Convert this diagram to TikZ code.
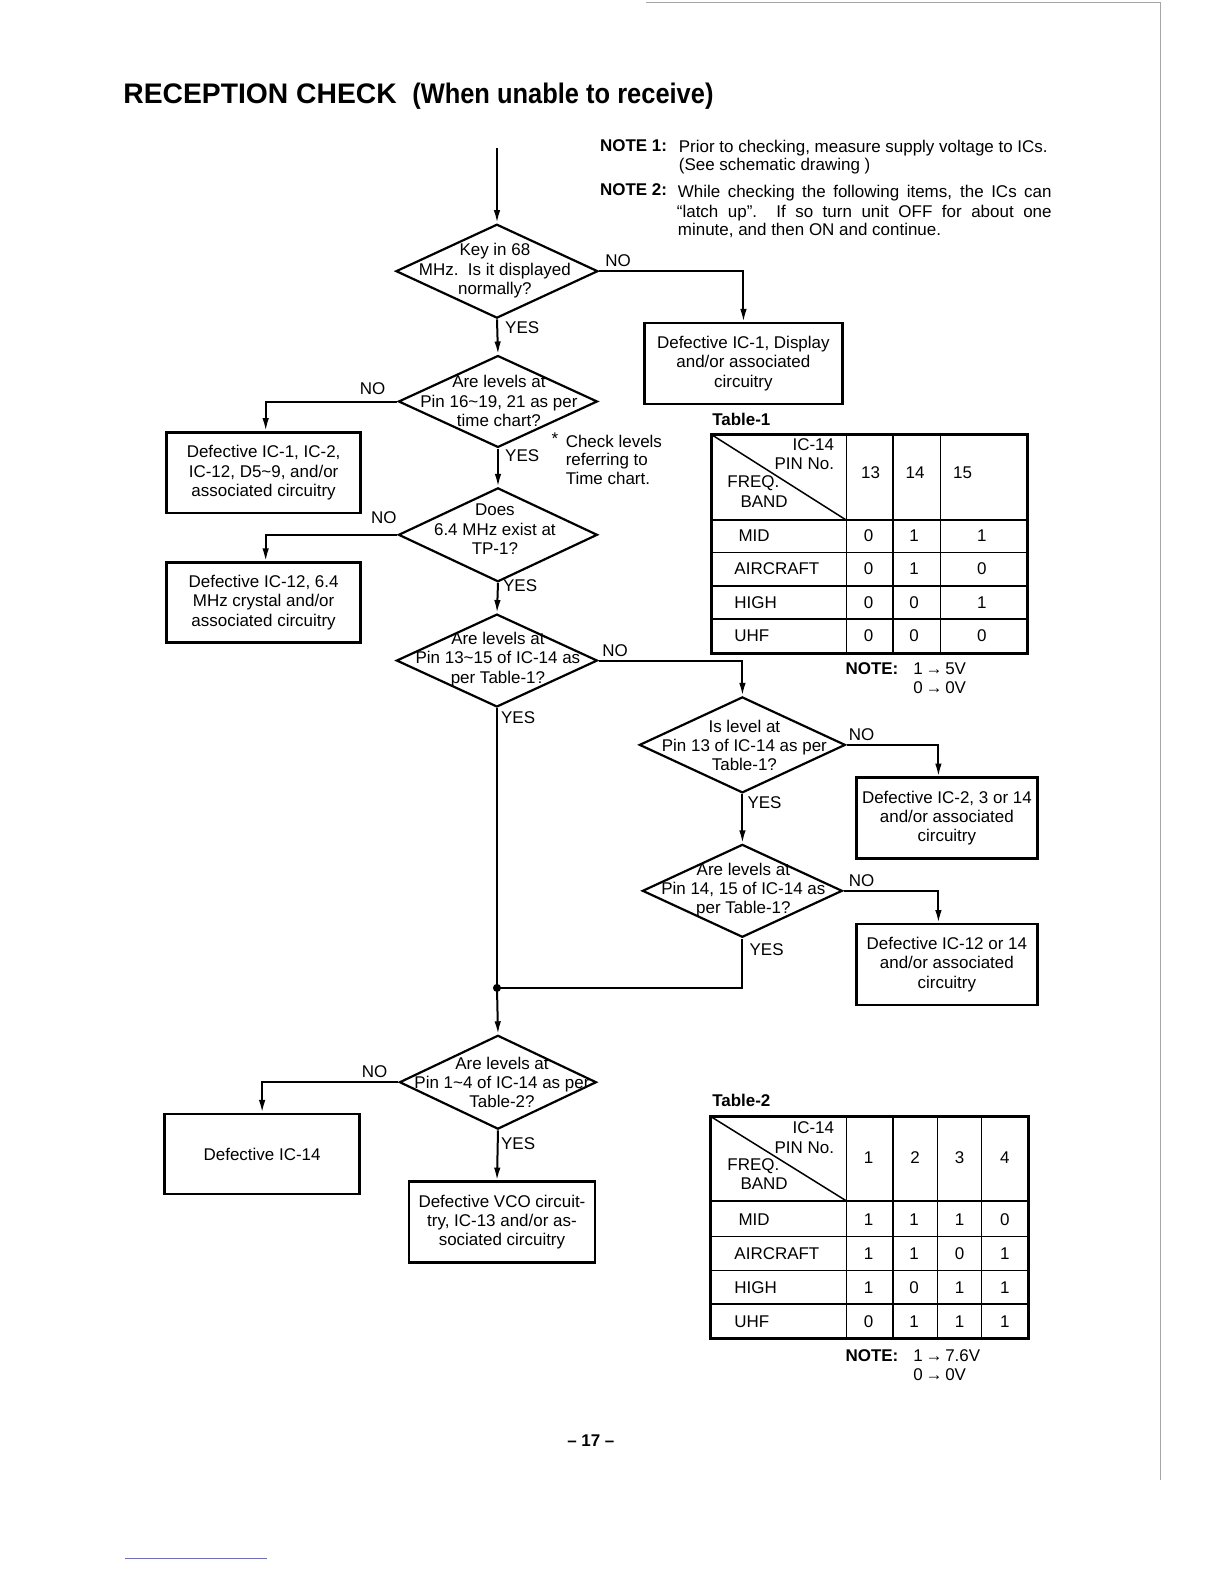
\documentclass[tikz,border=0pt]{standalone}
\usepackage{fontspec}
\setmainfont{Liberation Sans}
\usetikzlibrary{shapes.geometric,arrows.meta}
\newcommand\fs{\fontsize{16.8}{19}\selectfont}
\begin{document}
\begin{tikzpicture}[x=1pt,y=-1pt,scale=1.01,transform shape,
  every node/.style={font=\fs, inner sep=0pt},
  dia/.style={draw, shape=diamond, line width=2.2pt, inner sep=0pt},
  box/.style={draw, rectangle, line width=2.5pt, align=center},
  arr/.style={line width=2pt, -{Latex[length=13pt,width=6.5pt]}},
  ln/.style={line width=2pt},
  thick tab/.style={line width=3pt},
  thin tab/.style={line width=1.5pt},
  bl/.style={anchor=base west},
  bc/.style={anchor=base},
  br/.style={anchor=base east},
]
\useasboundingbox (0,0) rectangle (1211.88,1568.32);
% scan edges
\draw[gray!70, line width=1pt] (640,2) -- (1149,2) -- (1149,1465);
\draw[blue!60, line width=1pt] (124,1543) -- (264,1543);

% title
\node[bl, font=\fontsize{28}{30}\selectfont\bfseries] (title1) at (122,102) {RECEPTION CHECK};
\node[bl, font=\fontsize{28}{30}\selectfont\bfseries] (title2) at (408,102) {\scalebox{0.9}[1]{(When unable to receive)}};

% notes
\node[bl, font=\fs\bfseries] (n1) at (594,150) {NOTE 1:};
\node[bl] (n1a) at (672,151) {Prior to checking, measure supply voltage to ICs.};
\node[bl] (n1b) at (672,169) {(See schematic drawing )};
\node[bl, font=\fs\bfseries] (n2) at (594,194) {NOTE 2:};
\node[bl] (n2a) at (671,196) {\makebox[370pt][s]{While checking the following items, the ICs can}};
\node[bl] (n2b) at (670,215) {\makebox[371pt][s]{“latch up”.\ \ If so turn unit OFF for about one}};
\node[bl] (n2c) at (671,233) {minute, and then ON and continue.};

% diamonds
\node[dia, minimum width=200pt, minimum height=93pt] (d1) at (492,268.5) {};
\node[align=center] (t1) at (490,268) {Key in 68\\MHz.\ \ Is it displayed\\normally?};
\node[dia, minimum width=197pt, minimum height=91pt] (d2) at (493,397.5) {};
\node[align=center] (t2) at (494,397) {Are levels at\\Pin 16\textasciitilde19, 21 as per\\time chart?};
\node[dia, minimum width=197pt, minimum height=93pt] (d3) at (493,529.5) {};
\node[align=center] (t3) at (490,524) {Does\\6.4 MHz exist at\\TP-1?};
\node[dia, minimum width=199pt, minimum height=92pt] (d4) at (492,654) {};
\node[align=center] (t4) at (493,653) {Are levels at\\Pin 13\textasciitilde15 of IC-14 as\\per Table-1?};
\node[dia, minimum width=204pt, minimum height=95pt] (d5) at (735,737.5) {};
\node[align=center] (t5) at (737,738) {Is level at\\Pin 13 of IC-14 as per\\Table-1?};
\node[dia, minimum width=198pt, minimum height=92pt] (d6) at (735,882) {};
\node[align=center] (t6) at (736,881) {Are levels at\\Pin 14, 15 of IC-14 as\\per Table-1?};
\node[dia, minimum width=195pt, minimum height=93pt] (d7) at (493,1071.5) {};
\node[align=center] (t7) at (497,1072) {Are levels at\\Pin 1\textasciitilde4 of IC-14 as per\\Table-2?};

% boxes
\node[box, minimum width=196pt, minimum height=80pt] (b1) at (736,360) {Defective IC-1, Display\\and/or associated\\circuitry};
\node[box, minimum width=192pt, minimum height=80pt] (b2) at (261,468) {Defective IC-1, IC-2,\\IC-12, D5\textasciitilde9, and/or\\associated circuitry};
\node[box, minimum width=192pt, minimum height=79pt] (b3) at (261,596.5) {Defective IC-12, 6.4\\MHz crystal and/or\\associated circuitry};
\node[box, minimum width=179pt, minimum height=80pt] (b5) at (937.5,810) {Defective IC-2, 3 or 14\\and/or associated\\circuitry};
\node[box, minimum width=179pt, minimum height=80pt] (b6) at (937.5,955) {Defective IC-12 or 14\\and/or associated\\circuitry};
\node[box, minimum width=193pt, minimum height=79pt] (b7) at (259.5,1142.5) {Defective IC-14};
\node[box, minimum width=184pt, minimum height=80pt] (b8) at (497,1210) {Defective VCO circuit-\\try, IC-13 and/or as-\\sociated circuitry};

% connectors
\coordinate (start) at (492,147);
\coordinate (j) at (492,978);
\draw[arr] (start) -- (d1.north);
\draw[arr] (d1.east) -| (b1.north);
\draw[arr] (d1.south) -- (d2.north);
\draw[arr] (d2.west) -| ([xshift=2pt]b2.north);
\draw[arr] (d2.south) -- (d3.north);
\draw[arr] (d3.west) -| ([xshift=2pt]b3.north);
\draw[arr] (d3.south) -- (d4.north);
\draw[arr] (d4.east) -| (d5.north);
\draw[ln] (d4.south) -- (j);
\draw[arr] (d5.east) -| ([xshift=-8.5pt]b5.north);
\draw[arr] (d5.south) -- (d6.north);
\draw[arr] (d6.east) -| ([xshift=-8.5pt]b6.north);
\draw[ln] (d6.south) |- (j);
\fill (j) circle (4pt);
\draw[arr] (j) -- (d7.north);
\draw[arr] (d7.west) -| (b7.north);
\draw[arr] (d7.south) -- ([xshift=-5pt]b8.north);

% labels
\node (no1) at (612,258) {NO};
\node (yes1) at (517,324) {YES};
\node (no2) at (369,385) {NO};
\node (yes2) at (517,451) {YES};
\node (no3) at (380,513) {NO};
\node (yes3) at (515,580) {YES};
\node (no4) at (609,644) {NO};
\node (yes4) at (513,711) {YES};
\node (no5) at (853,727) {NO};
\node (yes5) at (757,795) {YES};
\node (no6) at (853,872) {NO};
\node (yes6) at (759,940) {YES};
\node (no7) at (371,1061) {NO};
\node (yes7) at (513,1132) {YES};

% check note
\node[bl] (ast) at (546,440) {*};
\node[bl] (c1) at (560,443) {Check levels};
\node[bl] (c2) at (560,461) {referring to};
\node[bl] (c3) at (560,480) {Time chart.};

% Table 1
\node[bl, font=\fs\bfseries] (tab1) at (705,421) {Table-1};
\draw[thin tab] (704,430) -- (838,515);
\draw[thin tab] (838,430) -- (838,647) (884,430) -- (884,647) (931,430) -- (931,647);
\draw[thin tab] (704,515) -- (1017,515) (704,547) -- (1017,547) (704,580) -- (1017,580) (704,613) -- (1017,613);
\draw[thick tab] (704,430) rectangle (1017,647);
\node[br] at (826,446) {IC-14};
\node[br] at (826,465) {PIN No.};
\node[bl] at (720,483) {FREQ.};
\node[bl] at (733,502) {BAND};
\node[bc] at (862,474) {13};
\node[bc] at (906,474) {14};
\node[bc] at (953,474) {15};
\foreach \nm/\xx/\a/\b/\c/\yy in {MID/731/0/1/1/536, AIRCRAFT/727/0/1/0/569, HIGH/727/0/0/1/602, UHF/727/0/0/0/635}{
  \node[bl] at (\xx,\yy) {\nm};
  \node[bc] at (860,\yy) {\a};
  \node[bc] at (905,\yy) {\b};
  \node[bc] at (972,\yy) {\c};
}
\node[bl, font=\fs\bfseries] (nt1) at (837,668) {NOTE:};
\node[bl] (nt1a) at (904,668) {1\,→\,5V};
\node[bl] (nt1b) at (904,687) {0\,→\,0V};

% Table 2
\node[bl, font=\fs\bfseries] (tab2) at (705,1096) {Table-2};
\draw[thin tab] (703,1105) -- (838,1189);
\draw[thin tab] (838,1105) -- (838,1325) (884,1105) -- (884,1325) (928,1105) -- (928,1325) (972,1105) -- (972,1325);
\draw[thin tab] (703,1189) -- (1018,1189) (703,1224) -- (1018,1224) (703,1258) -- (1018,1258) (703,1291) -- (1018,1291);
\draw[thick tab] (703,1105) rectangle (1018,1325);
\node[br] at (826,1122) {IC-14};
\node[br] at (826,1142) {PIN No.};
\node[bl] at (720,1159) {FREQ.};
\node[bl] at (733,1178) {BAND};
\node[bc] at (860,1152) {1};
\node[bc] at (906,1152) {2};
\node[bc] at (950,1152) {3};
\node[bc] at (995,1152) {4};
\foreach \nm/\xx/\a/\b/\c/\d/\yy in {MID/731/1/1/1/0/1213, AIRCRAFT/727/1/1/0/1/1247, HIGH/727/1/0/1/1/1281, UHF/727/0/1/1/1/1314}{
  \node[bl] at (\xx,\yy) {\nm};
  \node[bc] at (860,\yy) {\a};
  \node[bc] at (905,\yy) {\b};
  \node[bc] at (950,\yy) {\c};
  \node[bc] at (995,\yy) {\d};
}
\node[bl, font=\fs\bfseries] (nt2) at (837,1348) {NOTE:};
\node[bl] (nt2a) at (904,1348) {1\,→\,7.6V};
\node[bl] (nt2b) at (904,1367) {0\,→\,0V};

% page number
\node[font=\fs\bfseries] (pg) at (585,1426) {– 17 –};
\end{tikzpicture}
\end{document}
